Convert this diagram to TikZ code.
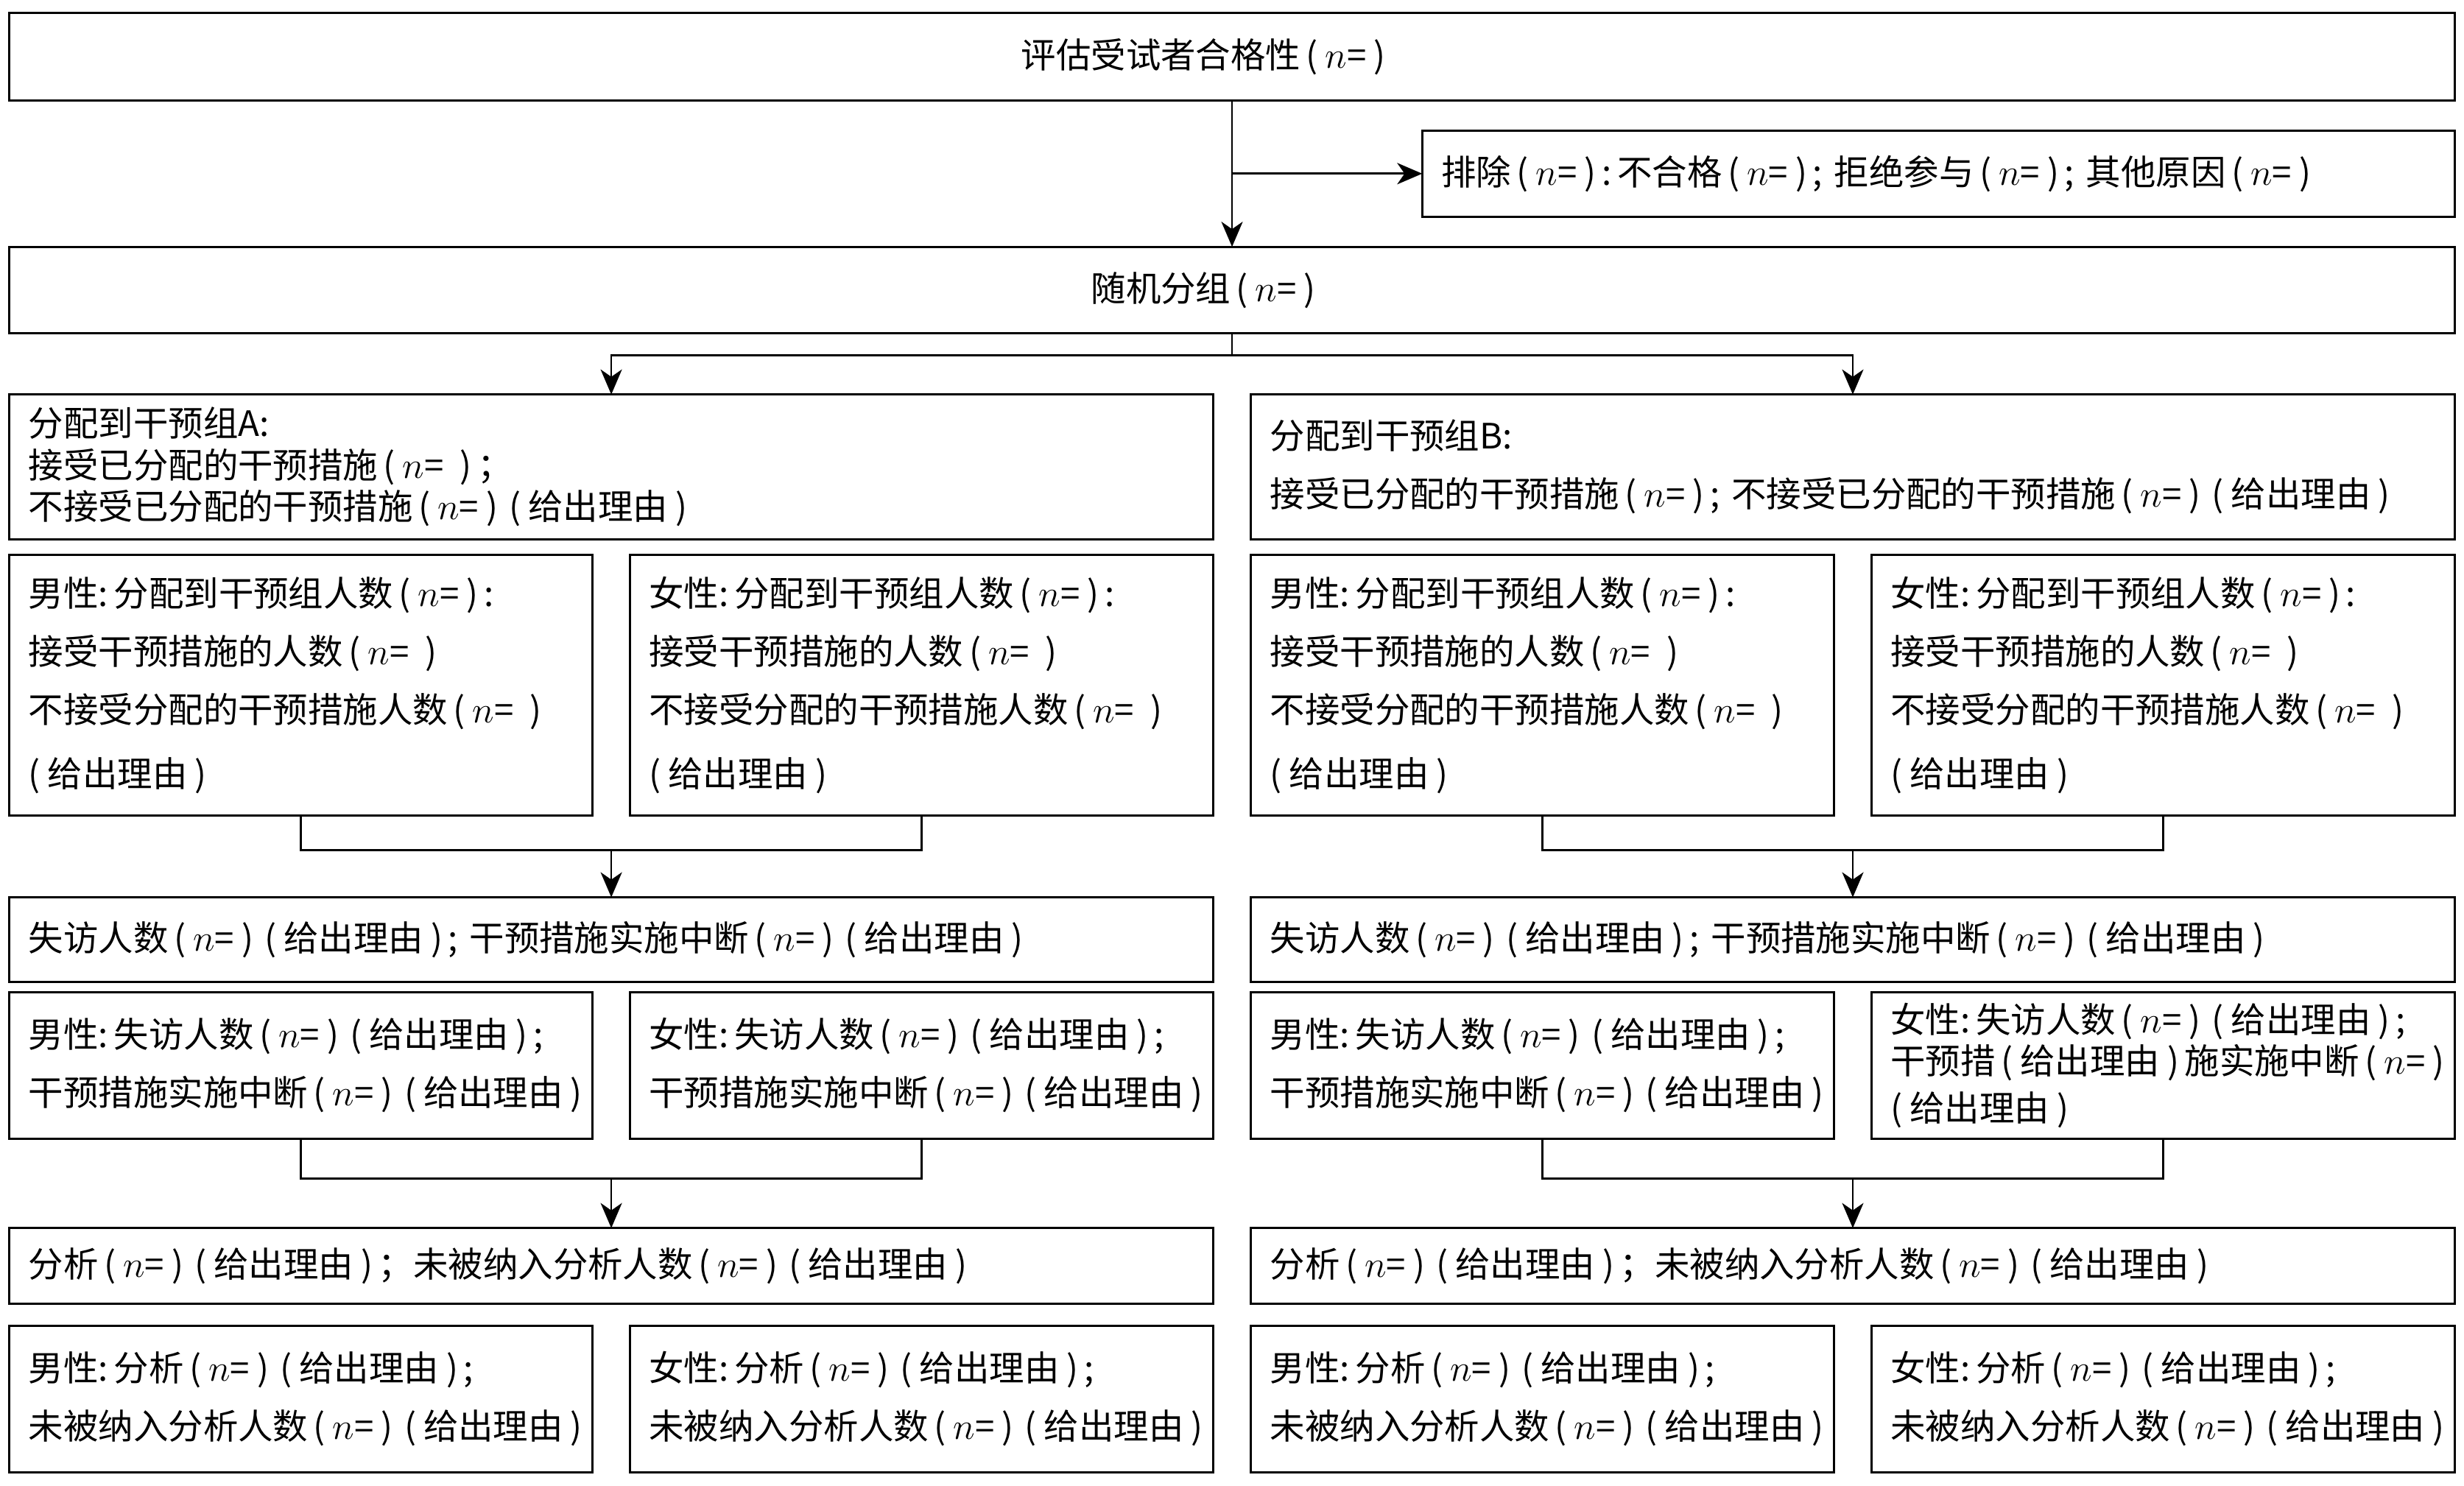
\documentclass[tikz,border=0pt]{standalone}
\usepackage{fontspec}
\usepackage{tikz}
\usetikzlibrary{positioning, arrows.meta, calc}
\newfontfamily\cjk{Noto Sans CJK SC}
\tikzset{
  bx/.style={draw, line width=.85pt, rectangle, inner xsep=2.6mm, inner ysep=0pt,
             outer sep=0pt, align=left, font=\cjk\fontsize{13.5}{22.5}\selectfont},
  ctr/.style={bx, align=center},
  wd/.style={minimum width=332.05mm, text width=326.85mm},
  ex/.style={minimum width=140.2mm, text width=135mm},
  gp/.style={minimum width=163.46mm, text width=158.26mm},
  sx/.style={minimum width=79.2mm, text width=74mm},
  tt/.style={font=\cjk\fontsize{13.5}{16}\selectfont},
  ln/.style={line width=.75pt},
  ar/.style={ln, -{Stealth[length=3.4mm, width=2.9mm, inset=1mm]}},
}
\newcommand{\po}{\kern.16em(\kern.21em}
\newcommand{\pc}{\kern.21em)\kern.16em}
\newcommand{\nq}{\po$n$=\pc}
\newcommand{\nqs}{\po$n$=\kern.25em\pc}
\newcommand{\gc}{\po 给出理由\pc}

\begin{document}
\begin{tikzpicture}[node distance=4mm]
  \useasboundingbox (0,0) rectangle (334.6mm,-201.7mm);

  \node[ctr, wd, minimum height=11.95mm, anchor=north west] (elig) at (1.28mm,-1.71mm)
       {\hspace*{-7mm}评估受试者合格性\nq};
  \node[bx, ex, minimum height=11.74mm, below left=4.05mm and 0mm of elig.south east] (excl)
       {排除\nq:\,不合格\nq; 拒绝参与\nq; 其他原因\nq};
  \node[ctr, wd, minimum height=11.74mm, below=19.85mm of elig] (rand) {\hspace*{-7mm}随机分组\nq};

  \node[bx, gp, tt, minimum height=19.63mm, below right=8.32mm and 0mm of rand.south west] (grpA)
       {分配到干预组A:\\接受已分配的干预措施\nqs{}；\\不接受已分配的干预措施\nq\gc};
  \node[bx, gp, minimum height=19.63mm, below left=8.32mm and 0mm of rand.south east] (grpB)
       {分配到干预组B:\\接受已分配的干预措施\nq; 不接受已分配的干预措施\nq\gc};

  \node[bx, sx, minimum height=35.42mm, below right=2.13mm and 0mm of grpA.south west] (mA1)
       {男性:\,分配到干预组人数\nq:\\接受干预措施的人数\nqs\\不接受分配的干预措施人数\nqs\\\gc};
  \node[bx, sx, minimum height=35.42mm, below left=2.13mm and 0mm of grpA.south east] (fA1)
       {女性:\,分配到干预组人数\nq:\\接受干预措施的人数\nqs\\不接受分配的干预措施人数\nqs\\\gc};
  \node[bx, sx, minimum height=35.42mm, below right=2.13mm and 0mm of grpB.south west] (mB1)
       {男性:\,分配到干预组人数\nq:\\接受干预措施的人数\nqs\\不接受分配的干预措施人数\nqs\\\gc};
  \node[bx, sx, minimum height=35.42mm, below left=2.13mm and 0mm of grpB.south east] (fB1)
       {女性:\,分配到干预组人数\nq:\\接受干预措施的人数\nqs\\不接受分配的干预措施人数\nqs\\\gc};

  \node[bx, gp, minimum height=11.52mm, below right=11.1mm and 0mm of mA1.south west] (lossA)
       {失访人数\nq\gc; 干预措施实施中断\nq\gc};
  \node[bx, gp, minimum height=11.52mm, below right=11.1mm and 0mm of mB1.south west] (lossB)
       {失访人数\nq\gc; 干预措施实施中断\nq\gc};

  \node[bx, sx, minimum height=19.85mm, below right=1.39mm and 0mm of lossA.south west] (mA2)
       {男性:\,失访人数\nq\gc;\\干预措施实施中断\nq\gc};
  \node[bx, sx, minimum height=19.85mm, below left=1.39mm and 0mm of lossA.south east] (fA2)
       {女性:\,失访人数\nq\gc;\\干预措施实施中断\nq\gc};
  \node[bx, sx, minimum height=19.85mm, below right=1.39mm and 0mm of lossB.south west] (mB2)
       {男性:\,失访人数\nq\gc;\\干预措施实施中断\nq\gc};
  \node[bx, sx, tt, minimum height=19.85mm, below left=1.39mm and 0mm of lossB.south east] (fB2)
       {女性:\,失访人数\nq\gc;\\干预措\gc{}施实施中断\nq\\\gc};

  \node[bx, gp, minimum height=10.24mm, below right=12.16mm and 0mm of mA2.south west] (anaA)
       {分析\nq\gc；未被纳入分析人数\nq\gc};
  \node[bx, gp, minimum height=10.24mm, below right=12.16mm and 0mm of mB2.south west] (anaB)
       {分析\nq\gc；未被纳入分析人数\nq\gc};

  \node[bx, sx, minimum height=19.95mm, below right=2.99mm and 0mm of anaA.south west] (mA3)
       {男性:\,分析\nq\gc;\\未被纳入分析人数\nq\gc};
  \node[bx, sx, minimum height=19.95mm, below left=2.99mm and 0mm of anaA.south east] (fA3)
       {女性:\,分析\nq\gc;\\未被纳入分析人数\nq\gc};
  \node[bx, sx, minimum height=19.95mm, below right=2.99mm and 0mm of anaB.south west] (mB3)
       {男性:\,分析\nq\gc;\\未被纳入分析人数\nq\gc};
  \node[bx, sx, minimum height=19.95mm, below left=2.99mm and 0mm of anaB.south east] (fB3)
       {女性:\,分析\nq\gc;\\未被纳入分析人数\nq\gc};

  \coordinate (cut) at (elig.south |- excl.west);
  \coordinate (rsplit) at ($(rand.south)+(0,-2.99mm)$);
  \coordinate (jA1) at ($(lossA.north)+(0,6.41mm)$);
  \coordinate (jB1) at ($(lossB.north)+(0,6.41mm)$);
  \coordinate (jA2) at ($(anaA.north)+(0,6.72mm)$);
  \coordinate (jB2) at ($(anaB.north)+(0,6.72mm)$);

  \draw[ar] (elig) -- (rand);
  \draw[ar] (cut) -- (excl);
  \draw[ln] (rand) -- (rsplit);
  \draw[ar] (rsplit) -| (grpA);
  \draw[ar] (rsplit) -| (grpB);
  \draw[ln] (mA1) |- (jA1) -| (fA1);
  \draw[ar] (jA1) -- (lossA);
  \draw[ln] (mB1) |- (jB1) -| (fB1);
  \draw[ar] (jB1) -- (lossB);
  \draw[ln] (mA2) |- (jA2) -| (fA2);
  \draw[ar] (jA2) -- (anaA);
  \draw[ln] (mB2) |- (jB2) -| (fB2);
  \draw[ar] (jB2) -- (anaB);
\end{tikzpicture}
\end{document}
